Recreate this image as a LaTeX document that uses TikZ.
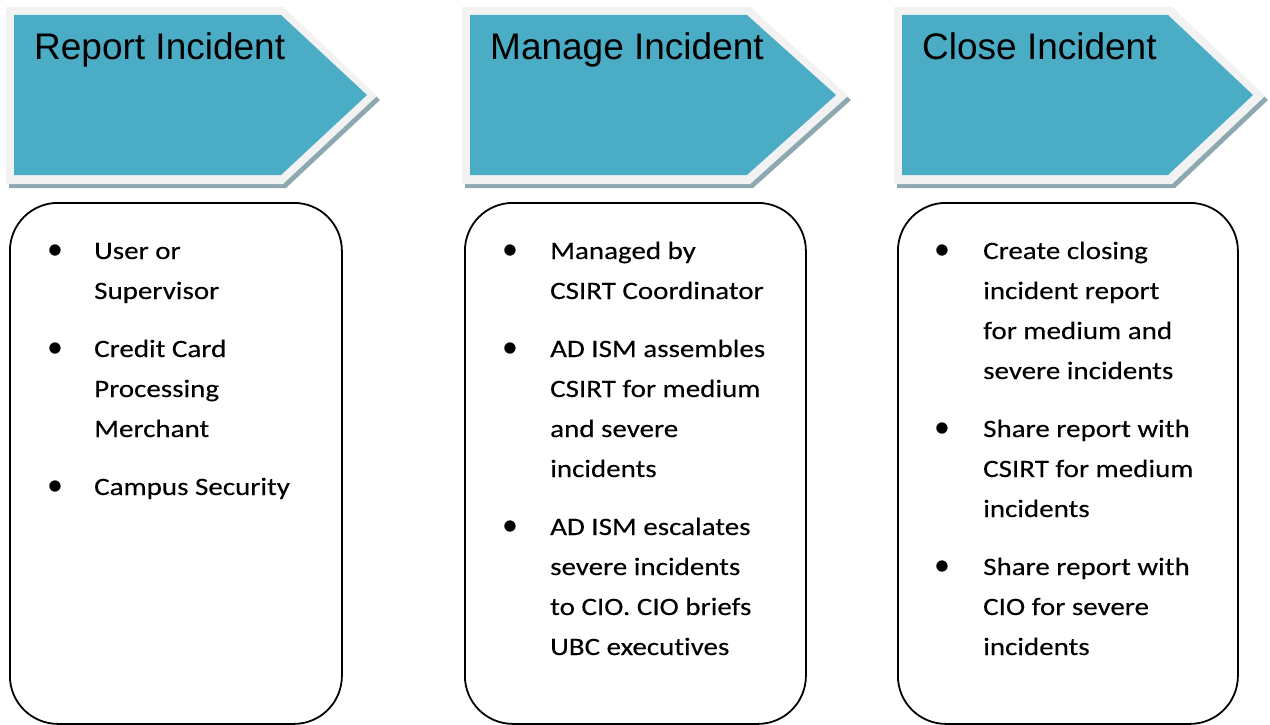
\documentclass[tikz,border=0pt]{standalone}
\usepackage{fontspec}
\setmainfont[FakeStretch=1.16, FakeBold=0.2, Ligatures=NoCommon]{Carlito}
\newfontfamily\bulfont{Carlito}
\newfontfamily\titlefont{Liberation Sans}
\definecolor{aqua}{HTML}{4BACC6}
\definecolor{rim}{HTML}{F2F2F2}
\definecolor{shade}{HTML}{8DA8AE}
\newcommand\itemlines[1]{\parbox[t]{300pt}{\raggedright #1}}
\tikzset{
  rimshape/.style={fill=rim, draw=none},
  fillshape/.style={fill=aqua, draw=none},
  shadeshape/.style={fill=shade, draw=none},
  title/.style={anchor=base west, inner sep=0pt, font=\titlefont\fontsize{37}{44}\selectfont},
  panel/.style={draw=black, line width=1.8pt, rounded corners=48pt, anchor=north west, inner sep=0pt},
  bul/.style={anchor=base, inner sep=0pt, font=\bulfont\fontsize{32}{40}\selectfont},
  itm/.style={anchor=base west, inner sep=0pt, font=\fontsize{25}{40}\selectfont},
}
\begin{document}
\begin{tikzpicture}[x=1pt,y=-1pt]
\useasboundingbox (0,0) rectangle (1270,725);
\fill[white] (0,0) rectangle (1270,725);
% arrow 1
\path[shadeshape] (9,11) -- (286,11) -- (380,100) -- (286,188) -- (9,188) -- cycle;
\path[rimshape] (6,7) -- (283,7) -- (377,96) -- (283,184) -- (6,184) -- cycle;
\path[fillshape] (14,15) -- (281,15) -- (367,95) -- (281,175) -- (14,175) -- cycle;
% arrow 2
\path[shadeshape] (465,11) -- (753,11) -- (851,100) -- (753,188) -- (465,188) -- cycle;
\path[rimshape] (462,7) -- (750,7) -- (848,96) -- (750,184) -- (462,184) -- cycle;
\path[fillshape] (470,15) -- (747,15) -- (836,95) -- (747,175) -- (470,175) -- cycle;
% arrow 3
\path[shadeshape] (897,11) -- (1175,11) -- (1268,100) -- (1175,188) -- (897,188) -- cycle;
\path[rimshape] (894,7) -- (1172,7) -- (1265,96) -- (1172,184) -- (894,184) -- cycle;
\path[fillshape] (902,15) -- (1168,15) -- (1253,95) -- (1168,175) -- (902,175) -- cycle;
% titles
\node[title] (h1) at (34,60) {Report Incident};
\node[title] (h2) at (490,60) {Manage Incident};
\node[title] (h3) at (922,60) {Close Incident};
% panels
\node[panel, minimum width=332pt, minimum height=521pt] (p1) at (9,202) {};
\node[panel, minimum width=341pt, minimum height=521pt] (p2) at (464,202) {};
\node[panel, minimum width=340pt, minimum height=521pt] (p3) at (897,202) {};
% panel 1 items
\node[bul] (p1b1) at (55,259) {•};
\node[itm] (p1t1) at (94,259) {\itemlines{User or\\Supervisor}};
\node[bul] (p1b2) at (55,357) {•};
\node[itm] (p1t2) at (94,357) {\itemlines{Credit Card\\Processing\\Merchant}};
\node[bul] (p1b3) at (55,495) {•};
\node[itm] (p1t3) at (94,495) {\itemlines{Campus Security}};
% panel 2 items
\node[bul] (p2b1) at (510,259) {•};
\node[itm] (p2t1) at (550,259) {\itemlines{Managed by\\CSIRT Coordinator}};
\node[bul] (p2b2) at (510,357) {•};
\node[itm] (p2t2) at (550,357) {\itemlines{AD ISM assembles\\CSIRT for medium\\and severe\\incidents}};
\node[bul] (p2b3) at (510,535) {•};
\node[itm] (p2t3) at (550,535) {\itemlines{AD ISM escalates\\severe incidents\\to CIO. CIO briefs\\UBC executives}};
% panel 3 items
\node[bul] (p3b1) at (942,259) {•};
\node[itm] (p3t1) at (983,259) {\itemlines{Create closing\\incident report\\for medium and\\severe incidents}};
\node[bul] (p3b2) at (942,437) {•};
\node[itm] (p3t2) at (983,437) {\itemlines{Share report with\\CSIRT for medium\\incidents}};
\node[bul] (p3b3) at (942,575) {•};
\node[itm] (p3t3) at (983,575) {\itemlines{Share report with\\CIO for severe\\incidents}};
\end{tikzpicture}
\end{document}
